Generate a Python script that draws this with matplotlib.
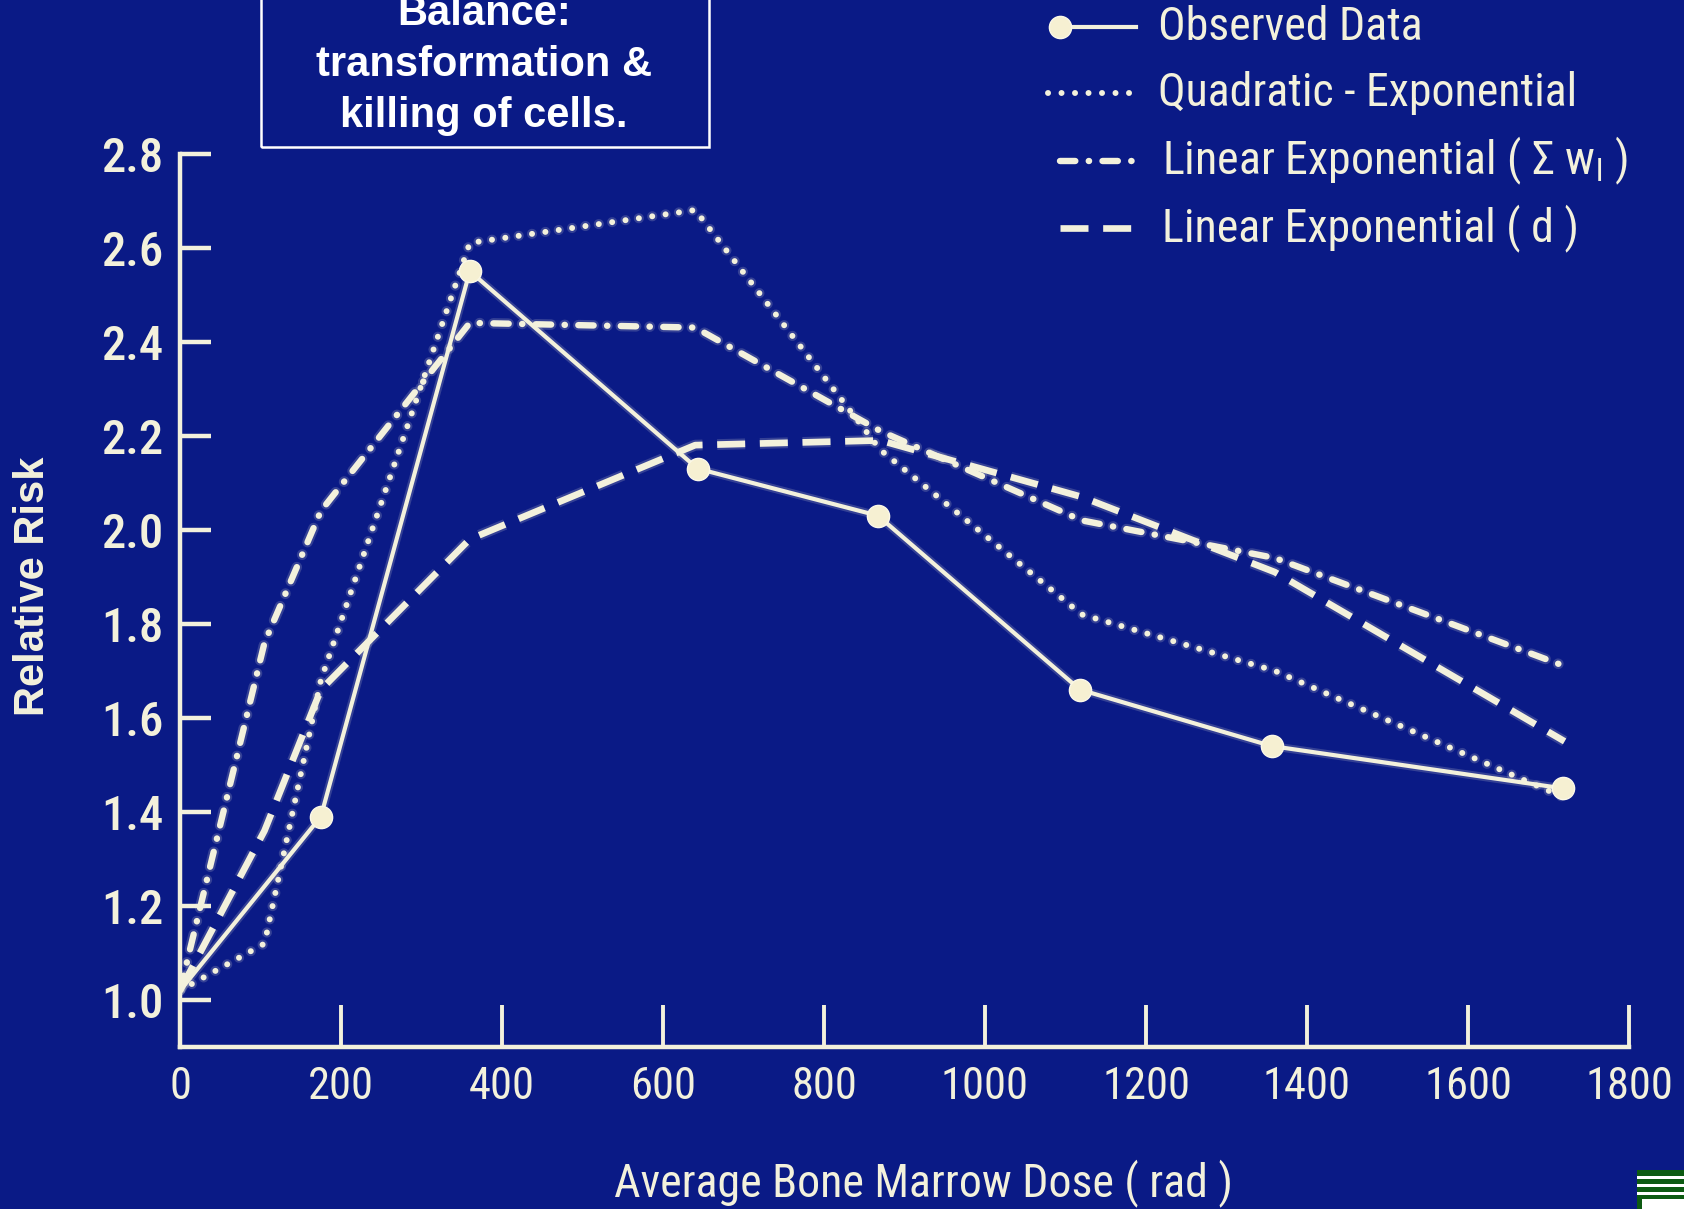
import matplotlib
matplotlib.use("Agg")
import matplotlib.pyplot as plt
from matplotlib import font_manager
from matplotlib import patheffects as pe
from matplotlib.lines import Line2D
from matplotlib.patches import Rectangle

# ---- data ----
dose_obs = [0, 175, 360, 643, 867, 1118, 1356, 1718]
risk_obs = [1.02, 1.39, 2.55, 2.13, 2.03, 1.66, 1.54, 1.45]

dose_model = [0, 105, 175, 360, 640, 870, 1120, 1360, 1720]
risk_quad_exp = [1.02, 1.12, 1.68, 2.61, 2.68, 2.17, 1.82, 1.70, 1.43]
risk_lin_exp_w = [1.02, 1.76, 2.04, 2.44, 2.43, 2.21, 2.02, 1.94, 1.71]
risk_lin_exp_d = [1.02, 1.36, 1.66, 1.98, 2.18, 2.19, 2.07, 1.91, 1.55]

x_ticks = [0, 200, 400, 600, 800, 1000, 1200, 1400, 1600, 1800]
y_ticks = [1.0, 1.2, 1.4, 1.6, 1.8, 2.0, 2.2, 2.4, 2.6, 2.8]
y_tick_labels = ["1.0", "1.2", "1.4", "1.6", "1.8", "2.0", "2.2", "2.4", "2.6", "2.8"]

legend_labels = [
    "Observed Data",
    "Quadratic - Exponential",
    "Linear Exponential ( \u03a3 w$_\\mathregular{l}$ )",
    "Linear Exponential ( d )",
]
box_lines = ["Balance:", "transformation &", "killing of cells."]

# ---- style ----
BG = "#0a1a86"
INK = "#f3f1dc"
W, H = 1684, 1209


def pick_font(names):
    for n in names:
        try:
            font_manager.findfont(font_manager.FontProperties(family=n),
                                  fallback_to_default=False)
            return n
        except Exception:
            continue
    return "DejaVu Sans"


NARROW = pick_font(["Liberation Sans Narrow", "Roboto Condensed", "Liberation Sans"])
SANS = pick_font(["Liberation Sans", "DejaVu Sans"])
plt.rcParams["mathtext.fontset"] = "custom"
plt.rcParams["mathtext.rm"] = NARROW


def fx(px):
    return px / W


def fy(py):
    return 1 - py / H


def glow(lw):
    return [pe.Stroke(linewidth=lw + 3, foreground=INK, alpha=0.18), pe.Normal()]


fig = plt.figure(figsize=(W / 100, H / 100), dpi=100, facecolor=BG)
ax = fig.add_axes([fx(180), fy(1047), fx(1629) - fx(180), fy(153.6) - fy(1047)])
ax.set_facecolor(BG)

LW_DOT, LW_DD, LW_DASH, LW_OBS = 4.3, 4.6, 4.8, 3.0
dot_style = (0, (0.01, 2.25))
dashdot_style = (0, (2.4, 2.1, 0.05, 2.1))
dash_style = (0, (4.2, 2.2))

ax.plot(dose_model, risk_quad_exp, color=INK, lw=LW_DOT, linestyle=dot_style,
        dash_capstyle="round", zorder=3, path_effects=glow(LW_DOT))
ax.plot(dose_model, risk_lin_exp_w, color=INK, lw=LW_DD, linestyle=dashdot_style,
        dash_capstyle="round", zorder=3, path_effects=glow(LW_DD))
ax.plot(dose_model, risk_lin_exp_d, color=INK, lw=LW_DASH, linestyle=dash_style,
        dash_capstyle="butt", zorder=3, path_effects=glow(LW_DASH))
ax.plot(dose_obs, risk_obs, color=INK, lw=LW_OBS, zorder=4, path_effects=glow(LW_OBS))
ax.plot(dose_obs[1:], risk_obs[1:], linestyle="none", marker="o", ms=16,
        color="#f6f0d2", mec="#fbf8e8", mew=1.0, zorder=5)

ax.set_xlim(0, 1800)
ax.set_ylim(0.9, 2.8)
for s in ("top", "right"):
    ax.spines[s].set_visible(False)
for s in ("left", "bottom"):
    ax.spines[s].set_color(INK)
    ax.spines[s].set_linewidth(3.2)

ax.set_xticks(x_ticks)
ax.set_xticklabels([str(v) for v in x_ticks])
ax.set_yticks(y_ticks)
ax.set_yticklabels(y_tick_labels)
ax.tick_params(axis="x", direction="in", length=30, width=2.8, color=INK,
               labelcolor=INK, pad=14, labelsize=32)
ax.tick_params(axis="y", direction="in", length=22, width=3.2, color=INK,
               labelcolor=INK, pad=12, labelsize=35)
for lab in ax.get_xticklabels() + ax.get_yticklabels():
    lab.set_fontfamily(NARROW)
for lab in ax.get_yticklabels():
    lab.set_fontweight("medium")

fig.text(fx(923), fy(1183), "Average Bone Marrow Dose ( rad )", fontsize=33,
         family=NARROW, color=INK, ha="center", va="center")
fig.text(fx(33), fy(586), "Relative Risk", fontsize=30, family=SANS,
         weight="bold", color=INK, rotation=90, ha="center", va="center")

# ---- legend drawn in figure space ----
rows_y = [27, 93, 161, 228]
styles = [
    dict(ls="-", lw=LW_OBS),
    dict(ls=dot_style, lw=LW_DOT, dash_capstyle="round"),
    dict(ls=dashdot_style, lw=LW_DD, dash_capstyle="round"),
    dict(ls=dash_style, lw=LW_DASH),
]
for i, (ry, st, lbl) in enumerate(zip(rows_y, styles, legend_labels)):
    x0 = 1048 if i == 1 else 1060
    fig.add_artist(Line2D([fx(x0), fx(1136)], [fy(ry), fy(ry)], color=INK, **st))
    if i == 0:
        fig.add_artist(Line2D([fx(1060)], [fy(ry)], marker="o", ms=16,
                              color="#f6f0d2", mec="#fbf8e8", ls="none"))
    fig.text(fx(1158 if i < 2 else 1162), fy(ry), lbl, fontsize=33, family=NARROW,
             color=INK, va="center", ha="left")

# ---- boxed annotation at the top ----
fig.add_artist(Rectangle((fx(261), fy(147)), fx(709) - fx(261), fy(-20) - fy(147),
                         facecolor="none", edgecolor="white", lw=1.8))
for yb, t in zip([25, 76, 127], box_lines):
    fig.text(fx(484), fy(yb), t, fontsize=30, family=SANS, weight="bold",
             color="white", ha="center", va="baseline")

# ---- corner emblem ----
fig.add_artist(Rectangle((fx(1637), fy(1209)), fx(W) - fx(1637), fy(1170) - fy(1209),
                         facecolor="#0d5a12", edgecolor="none"))
for sy in (1176, 1184, 1192):
    fig.add_artist(Rectangle((fx(1637), fy(sy + 3)), fx(W) - fx(1637), fy(sy) - fy(sy + 3),
                             facecolor="white", edgecolor="none"))
fig.add_artist(Rectangle((fx(1642), fy(1209)), fx(W) - fx(1642), fy(1199) - fy(1209),
                         facecolor="white", edgecolor="none"))

fig.savefig("out.png", dpi=100, facecolor=BG)
